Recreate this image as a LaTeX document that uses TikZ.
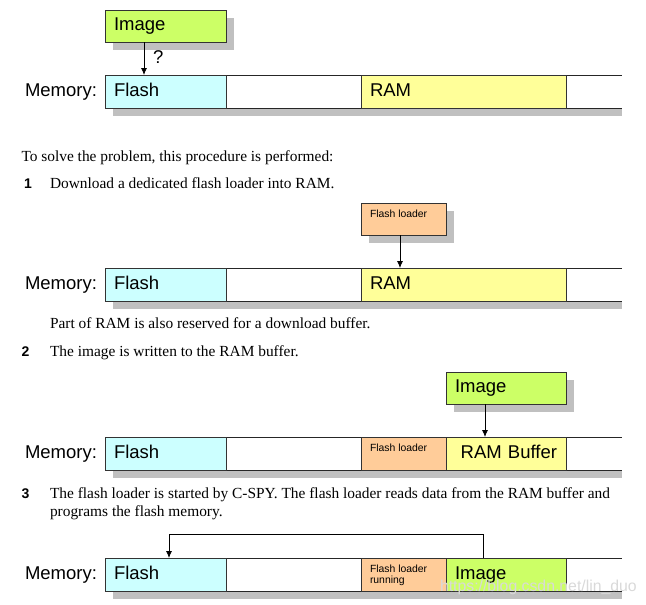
\documentclass[tikz,border=0pt]{standalone}
\usepackage{fontspec}
\setmainfont{Liberation Serif}
\setsansfont{Liberation Sans}
\usetikzlibrary{arrows.meta,positioning,shadows}
\definecolor{flashc}{HTML}{CCFFFF}
\definecolor{ramc}{HTML}{FFFF99}
\definecolor{imgc}{HTML}{CCFF66}
\definecolor{loadc}{HTML}{FFCC99}
\definecolor{shadc}{HTML}{C0C0C0}
\tikzset{every node/.style={inner sep=0pt, outer sep=0pt},
  bigtxt/.style={font=\sffamily\fontsize{18.5}{22}\selectfont, text height=13.3pt, text depth=3.9pt},
  smalltxt/.style={font=\sffamily\fontsize{10.4}{11.3}\selectfont, align=left, anchor=north west},
  prose/.style={font=\fontsize{15.4}{17.7}\selectfont, anchor=base west},
  stepno/.style={font=\sffamily\bfseries\fontsize{14}{17}\selectfont, anchor=base west},
  box/.style={draw=black!80, line width=0.8pt, anchor=north west, minimum height=33pt, text width=#1, inner xsep=9pt, align=left},
  sbox/.style={box=#1, minimum height=32pt, drop shadow={shadow xshift=8pt, shadow yshift=-8pt, fill=shadc, opacity=1}},
  rowline/.style={draw=black!85, line width=0.8pt},
  arr/.style={line width=0.8pt, -{Latex[length=7pt,width=6pt]}}}

\begin{document}
\begin{tikzpicture}[x=1pt, y=-1pt]
  \useasboundingbox (0,0) rectangle (646,605);
  \foreach \n/\T in {1/75, 2/268, 3/437, 4/558} {
    \fill[shadc] (113,\T+33) rectangle (622,\T+41);
    \draw[rowline] (105,\T) -- (622,\T) (105,\T+33) -- (622,\T+33);
    \node[box=103pt, bigtxt, fill=flashc] (fl\n) at (105,\T) {Flash};
    \node[bigtxt, left=8pt of fl\n] (mem\n) {Memory:};
  }
  % memory contents
  \node[box=187pt, bigtxt, fill=ramc] (ram1) at (361,75) {RAM};
  \node[box=187pt, bigtxt, fill=ramc] (ram2) at (361,268) {RAM};
  \node[box=67pt, fill=loadc] (ld3) at (361,437) {};
  \node[box=102pt, bigtxt, fill=ramc, align=right] (buf3) at (446,437) {RAM Buffer};
  \node[box=67pt, fill=loadc] (ld4) at (361,558) {};
  \node[box=102pt, bigtxt, fill=imgc] (img4) at (446,558) {Image};
  \node[smalltxt] (ldt3) at ([shift={(9pt,-7pt)}]ld3.north west) {Flash loader};
  \node[smalltxt] (ldt4) at ([shift={(9pt,-7pt)}]ld4.north west) {Flash loader\\running};
  % things to load
  \node[sbox=103pt, bigtxt, fill=imgc] (img1) at (105,10) {Image};
  \node[sbox=67pt, fill=loadc] (ld2) at (361,203) {};
  \node[smalltxt] (ldt2) at ([shift={(9pt,-7pt)}]ld2.north west) {Flash loader};
  \node[sbox=102pt, bigtxt, fill=imgc] (img3) at (446,372) {Image};
  \draw[arr] ([xshift=39pt]img1.south west) -- ([xshift=39pt]fl1.north west)
    node[midway, right=9pt, bigtxt] (q1) {?};
  \draw[arr] ([xshift=39pt]ld2.south west) -- ([xshift=39pt]ram2.north west);
  \draw[arr] ([xshift=39pt]img3.south west) -- ([xshift=39pt]buf3.north west);
  \draw[arr] ([xshift=37pt]img4.north west) -- ++(0,-24) -| ([xshift=64pt]fl4.north west);
  % text
  \node[prose] (intro) at (21.5,161.7) {To solve the problem, this procedure is performed:};
  \node[stepno] (n1) at (24,188.3) {1};
  \node[prose] (s1) at (50,188.3) {Download a dedicated flash loader into RAM.};
  \node[prose] (s1b) at (50,328.3) {Part of RAM is also reserved for a download buffer.};
  \node[stepno] (n2) at (21.7,356.7) {2};
  \node[prose] (s2) at (50,356.7) {The image is written to the RAM buffer.};
  \node[stepno] (n3) at (21.7,498.3) {3};
  \node[prose] (s3) at (50,498.3) {The flash loader is started by C-SPY. The flash loader reads data from the RAM buffer and};
  \node[prose] (s3b) at (50,516) {programs the flash memory.};
  \node[font=\sffamily\fontsize{15.8}{18}\selectfont, text=gray!30, anchor=base west] (wm) at (440,591) {https://blog.csdn.net/lin\_duo};
\end{tikzpicture}
\end{document}
